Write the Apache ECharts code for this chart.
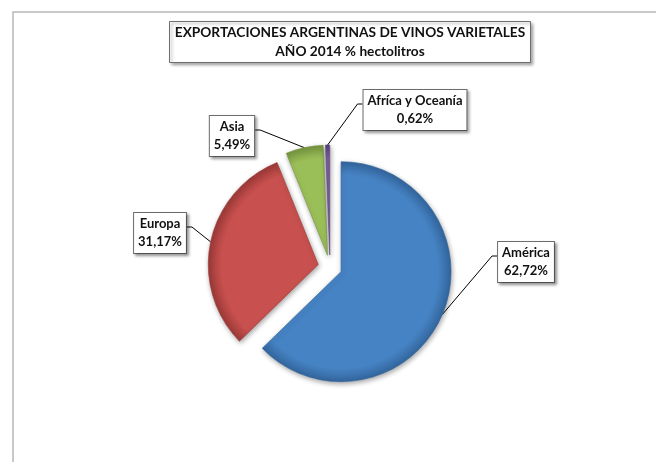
<!DOCTYPE html>
<html>
<head>
<meta charset="utf-8">
<script src="https://cdn.jsdelivr.net/npm/echarts@6/dist/echarts.min.js"></script>
<style>
  html, body { margin: 0; padding: 0; background: #fff; }
  #chart { width: 656px; height: 462px; }
</style>
</head>
<body>
<div id="chart"></div>
<script>
  // regions, clockwise from 12 o'clock
  var regions = ['América', 'Europa', 'Asia', 'Afríca y Oceanía'];
  var shares = [62.72, 31.17, 5.49, 0.62];
  var sliceColors = ['#4683c4', '#c8504e', '#9bbf58', '#7a5f9e'];
  var rimColors = ['#33669e', '#9c3a38', '#77953f', '#574378'];

  // label box centres (px)
  var labelSpots = [[526, 262], [160, 233], [232, 136], [415, 110]];

  var pieCenter = [330, 267];
  var pieRadius = 110;
  var explode = 12;

  var chart = echarts.init(document.getElementById('chart'));

  var total = shares.reduce(function (a, b) { return a + b; }, 0);

  function fmt(v) {
    return v.toFixed(2).replace('.', ',') + '%';
  }

  // one series per slice so every slice can be pulled out on its own
  var centers = [];
  var acc = 0;
  shares.forEach(function (v) {
    var mid = (acc + v / 2) / total * Math.PI * 2;
    acc += v;
    centers.push([pieCenter[0] + explode * Math.sin(mid), pieCenter[1] - explode * Math.cos(mid)]);
  });

  function placeLabel(p) {
    var spot = labelSpots[p.dataIndex];
    var c = centers[p.dataIndex];
    var w = p.labelRect.width;
    var joinY = spot[1] - 6;
    var left = spot[0] < c[0];
    var edgeX = left ? spot[0] + w / 2 : spot[0] - w / 2;
    var stubX = left ? edgeX + 5 : edgeX - 5;
    var out = { x: spot[0], y: spot[1], align: 'center', verticalAlign: 'middle' };
    if (p.labelLinePoints) {
      out.labelLinePoints = [p.labelLinePoints[0], [stubX, joinY], [edgeX, joinY]];
    }
    return out;
  }

  var series = centers.map(function (c, i) {
    return {
      type: 'pie',
      center: c,
      radius: pieRadius,
      startAngle: 90,
      clockwise: true,
      avoidLabelOverlap: false,
      animation: false,
      emphasis: { disabled: true },
      data: regions.map(function (name, j) {
        if (j !== i) {
          return {
            name: name, value: shares[j],
            itemStyle: { color: 'transparent', borderWidth: 0 },
            label: { show: false }, labelLine: { show: false }
          };
        }
        return {
          name: name, value: shares[j],
          itemStyle: {
            color: {
              type: 'radial', x: c[0], y: c[1], r: pieRadius, global: true,
              colorStops: [
                { offset: 0, color: sliceColors[j] },
                { offset: 0.88, color: sliceColors[j] },
                { offset: 1, color: rimColors[j] }
              ]
            },
            borderColor: rimColors[j],
            borderWidth: 0.6,
            shadowColor: 'rgba(0,0,0,0.35)',
            shadowBlur: 5,
            shadowOffsetX: 1,
            shadowOffsetY: 2
          }
        };
      }),
      label: {
        show: true,
        formatter: function (p) { return p.name + '\n' + fmt(p.value); },
        fontFamily: 'Lato',
        fontWeight: 'bold',
        fontSize: 13,
        lineHeight: 18,
        color: '#111',
        align: 'center',
        backgroundColor: '#fff',
        borderColor: '#6e6e6e',
        borderWidth: 1,
        padding: [2, 4],
        shadowColor: 'rgba(0,0,0,0.35)',
        shadowBlur: 3,
        shadowOffsetX: 2,
        shadowOffsetY: 2
      },
      labelLine: {
        show: true,
        lineStyle: { color: '#000', width: 1 }
      },
      labelLayout: placeLabel
    };
  });

  chart.setOption({
    backgroundColor: '#fff',
    title: {
      text: 'EXPORTACIONES ARGENTINAS DE VINOS VARIETALES\nAÑO 2014 % hectolitros',
      left: 344,
      top: 21,
      textAlign: 'center',
      backgroundColor: '#fff',
      borderColor: '#6e6e6e',
      borderWidth: 1,
      padding: [2, 6],
      shadowColor: 'rgba(0,0,0,0.35)',
      shadowBlur: 3,
      shadowOffsetX: 2,
      shadowOffsetY: 2,
      textStyle: {
        fontFamily: 'Lato',
        fontWeight: 'bold',
        fontSize: 13.7,
        lineHeight: 19,
        color: '#111'
      }
    },
    graphic: [{
      type: 'rect',
      shape: { x: 13, y: 12, width: 700, height: 500 },
      style: { fill: 'none', stroke: '#b8b8b8', lineWidth: 1.5 },
      silent: true,
      z: -1
    }],
    series: series
  });
</script>
</body>
</html>
